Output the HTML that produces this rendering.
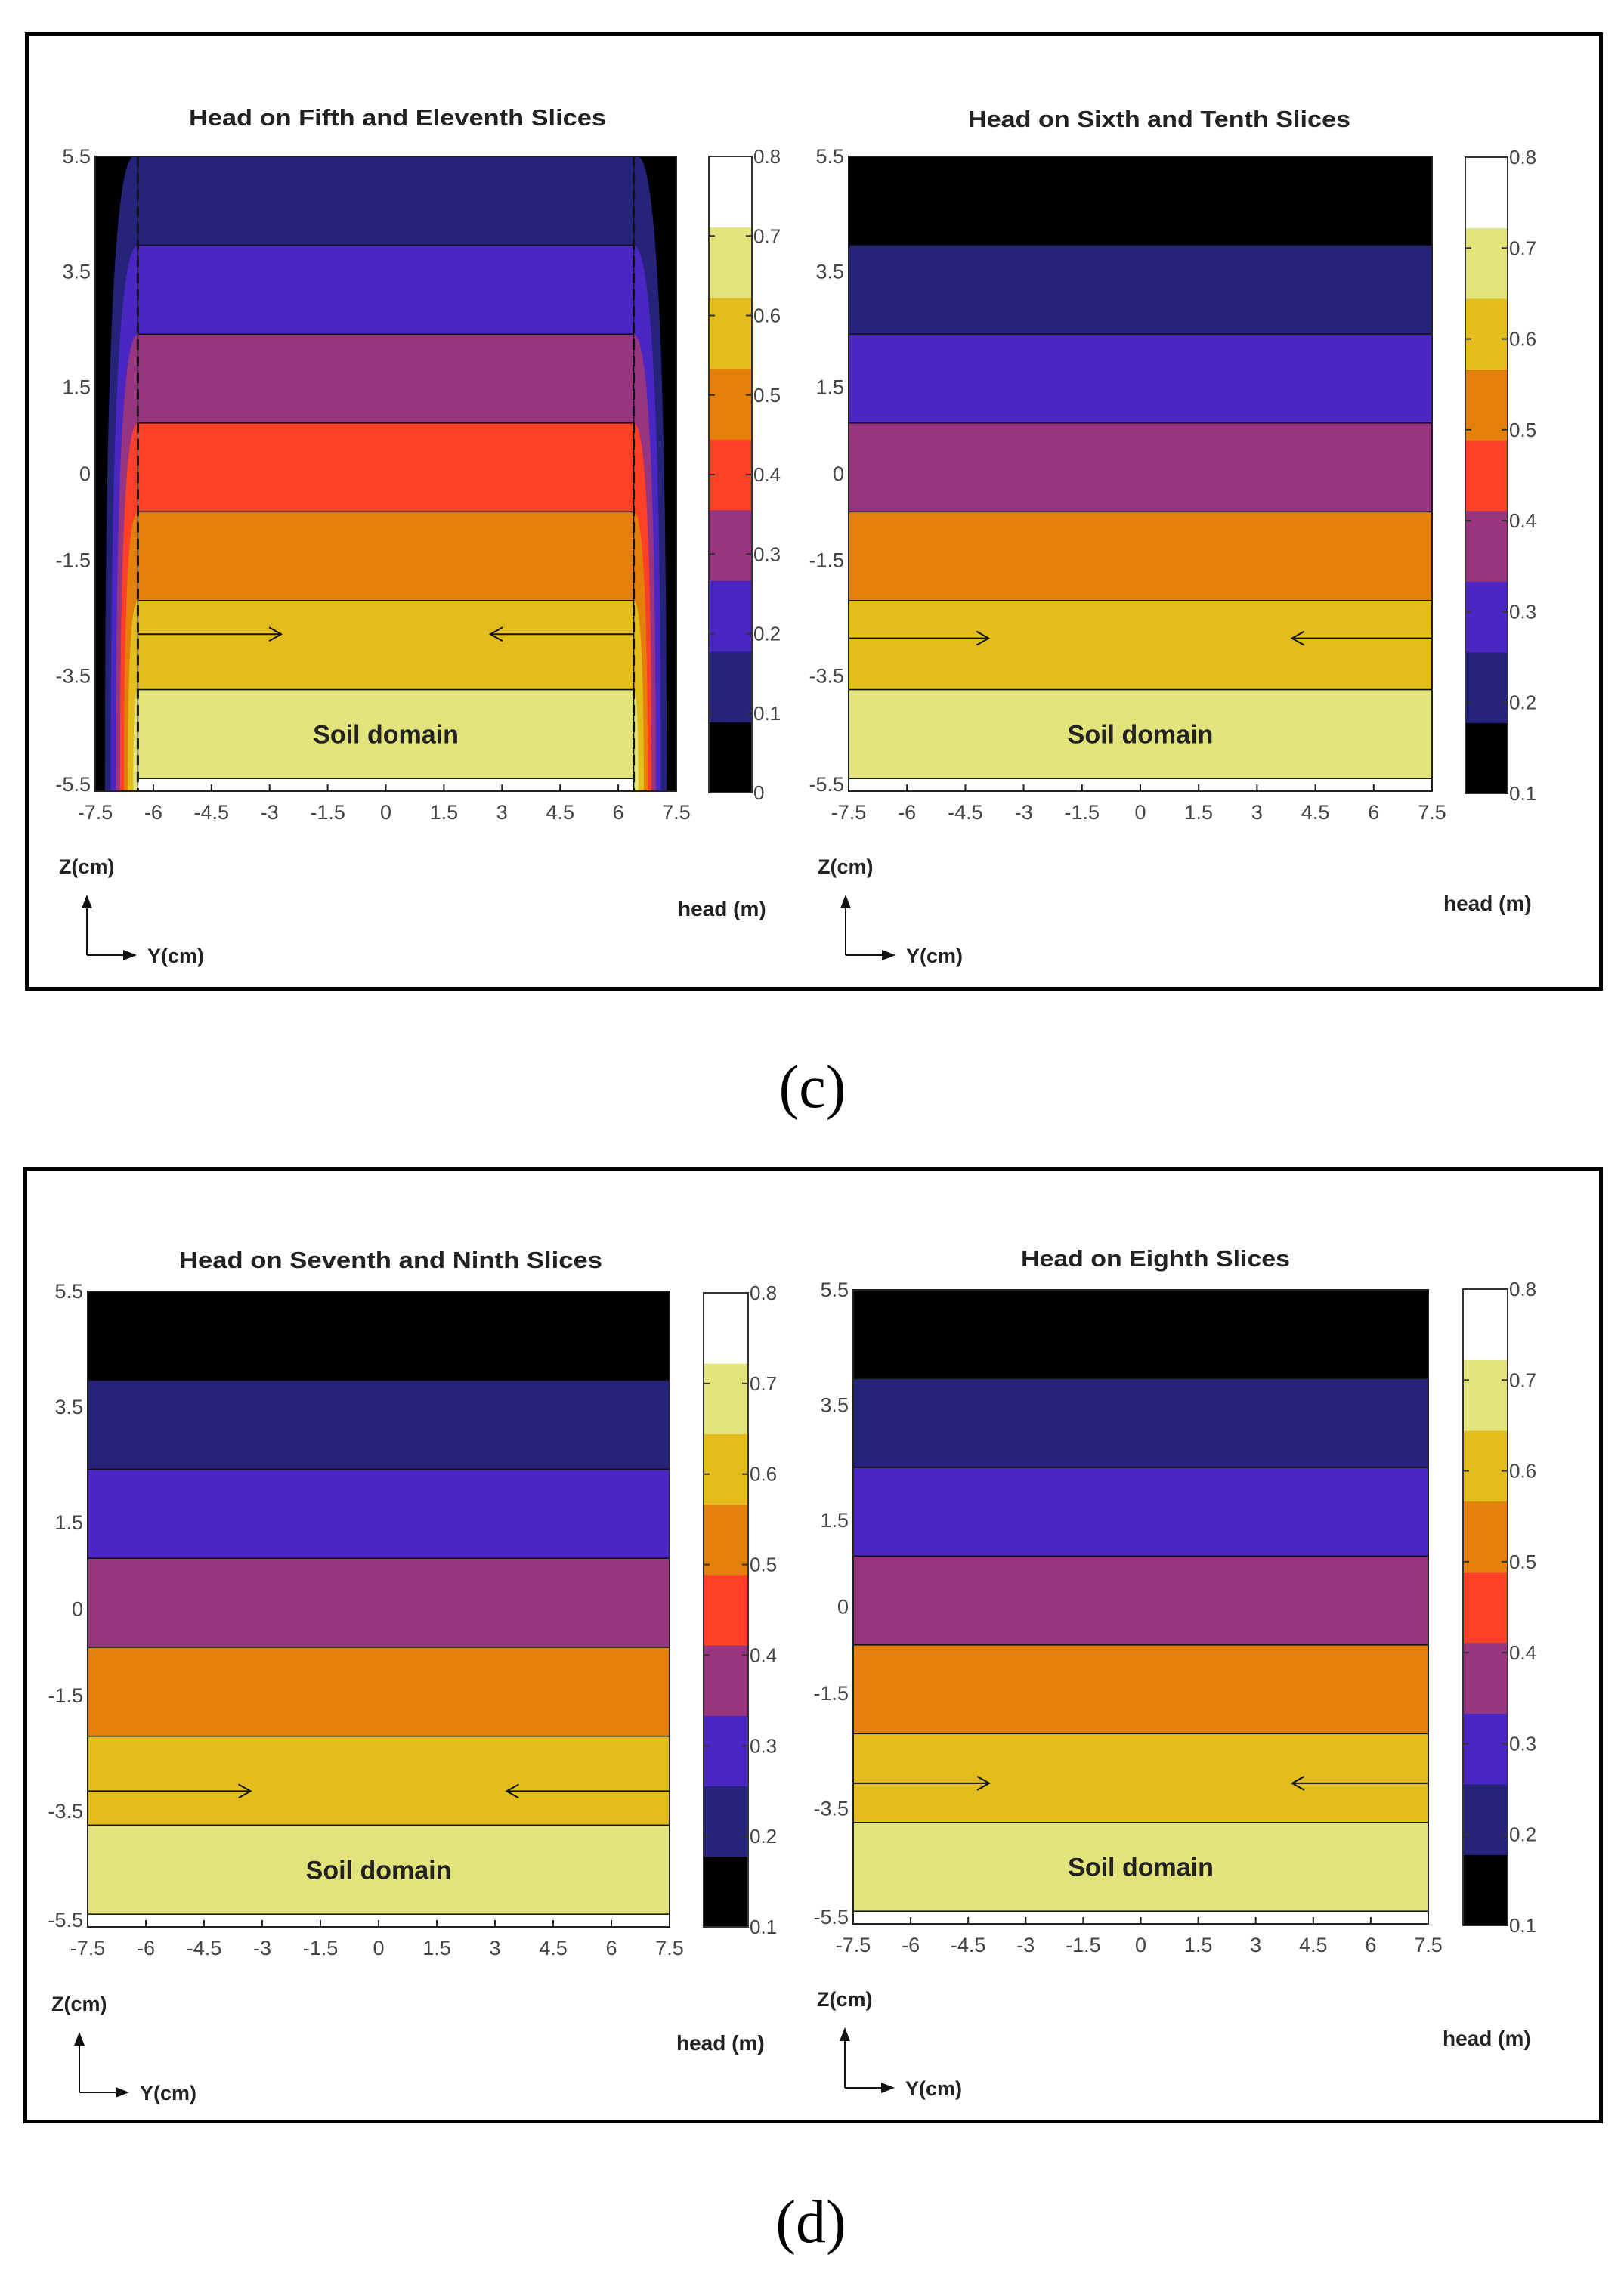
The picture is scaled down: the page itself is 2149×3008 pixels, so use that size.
<!DOCTYPE html>
<html><head><meta charset="utf-8"><style>
html,body{margin:0;padding:0;background:#fff;}
svg{display:block;}
</style></head><body>
<svg id="fig" width="2149" height="3008" viewBox="0 0 2149 3008" xmlns="http://www.w3.org/2000/svg">
<rect x="35.5" y="45.5" width="2083" height="1263" fill="#fff" stroke="#000" stroke-width="5"/>
<rect x="33.5" y="1546.5" width="2085" height="1261" fill="#fff" stroke="#000" stroke-width="5"/>
<text x="1075" y="1465" font-family="Liberation Serif, serif" font-size="80" text-anchor="middle">(c)</text>
<text x="1073" y="2967" font-family="Liberation Serif, serif" font-size="80" text-anchor="middle">(d)</text>
<g id="layer"></g>
</svg>
<script>
// ---- data ----
const xTicks = [-7.5,-6,-4.5,-3,-1.5,0,1.5,3,4.5,6,7.5];
const xTickLabels = ["-7.5","-6","-4.5","-3","-1.5","0","1.5","3","4.5","6","7.5"];
const zTicks = [5.5,3.5,1.5,0,-1.5,-3.5,-5.5];
const zTickLabels = ["5.5","3.5","1.5","0","-1.5","-3.5","-5.5"];
const bandEdges = [5.5,3.96,2.42,0.88,-0.66,-2.2,-3.74,-5.28];
const bandsFifth = ["n","b","p","r","o","g","y"];
const bandsOther = ["k","n","b","p","o","g","y"];
const cbSegments = ["k","n","b","p","r","o","g","y","w"];
const cbTicksA = ["0","0.1","0.2","0.3","0.4","0.5","0.6","0.7","0.8"];
const cbTicksB = ["0.1","0.2","0.3","0.4","0.5","0.6","0.7","0.8"];
const sideBottomX = [-7.25,-7.1,-6.97,-6.86,-6.76,-6.66,-6.52];
const arrowZ = [-2.78,-2.85,-3.15,-3.06];
const arrowTipX = [2.7,3.9,3.3,3.95];
const COL = {k:'#000000',n:'#25237a',b:'#4a27c2',p:'#973580',r:'#fe4126',o:'#e2800a',g:'#e3bd1c',y:'#e3e37b',w:'#ffffff'};

const panels = [
 {name:'fifth-eleventh', title:'Head on Fifth and Eleventh Slices', tw:552, tx:526, ty:166, x0:126,x1:895,y0:207,y1:1047, cb:[938,995,207,1049], cbt:cbTicksA, bands:bandsFifth, side:true, ai:0, zx:78, zy:1156, hx:897, hy:1212},
 {name:'sixth-tenth', title:'Head on Sixth and Tenth Slices', tw:506, tx:1534, ty:168, x0:1123,x1:1895,y0:207,y1:1047, cb:[1939,1995,208,1050], cbt:cbTicksB, bands:bandsOther, side:false, ai:1, zx:1082, zy:1156, hx:1910, hy:1205},
 {name:'seventh-ninth', title:'Head on Seventh and Ninth Slices', tw:560, tx:517, ty:1678, x0:116,x1:886,y0:1709,y1:2550, cb:[931,990,1711,2550], cbt:cbTicksB, bands:bandsOther, side:false, ai:2, zx:68, zy:2661, hx:895, hy:2713},
 {name:'eighth', title:'Head on Eighth Slices', tw:356, tx:1529, ty:1676, x0:1129,x1:1890,y0:1707,y1:2546, cb:[1936,1995,1706,2548], cbt:cbTicksB, bands:bandsOther, side:false, ai:3, zx:1081, zy:2655, hx:1909, hy:2707}
];
const NS='http://www.w3.org/2000/svg';
const layer=document.getElementById('layer');
function mk(tag,attrs,parent){const e=document.createElementNS(NS,tag);for(const k in attrs)e.setAttribute(k,attrs[k]);(parent||layer).appendChild(e);return e;}

panels.forEach(P=>{
 const g=mk('g',{});
 
 
 const sx=v=>P.x0+(v+7.5)/15*(P.x1-P.x0);
 const sz=z=>P.y0+(5.5-z)/11*(P.y1-P.y0);
 const t=mk('text',{x:P.tx,y:P.ty,'font-family':'Liberation Sans, sans-serif','font-weight':'bold','font-size':31,'text-anchor':'middle',textLength:P.tw,lengthAdjust:'spacingAndGlyphs',fill:'#222'},g);
 t.textContent=P.title;
 
 
 // plot background
 const bg=mk('rect',{x:P.x0,y:P.y0,width:P.x1-P.x0,height:P.y1-P.y0,fill:P.side?'#000':'#fff'},g);
 
 
 let ix0=-7.5, ix1=7.5;
 if(P.side){
  ix0=-6.4; ix1=6.4;
  P.bands.forEach((c,i)=>{
   const xb=sideBottomX[i]; const zt=bandEdges[i]; const xt=i===0?-6.5:-6.4;
   const d=`M${sx(xb)},${sz(-5.5)} Q${sx(xb)},${sz(zt)} ${sx(xt)},${sz(zt)} L${sx(-xt)},${sz(zt)} Q${sx(-xb)},${sz(zt)} ${sx(-xb)},${sz(-5.5)} Z`;
   const pth=mk('path',{d:d,fill:COL[c]},g);
   
   
  });
 }
 P.bands.forEach((c,i)=>{
  const r=mk('rect',{x:sx(ix0),y:sz(bandEdges[i]),width:sx(ix1)-sx(ix0),height:sz(bandEdges[i+1])-sz(bandEdges[i]),fill:COL[c],stroke:'#111','stroke-width':1.5},g);
  
  
 });
 const strip=mk('rect',{x:sx(ix0),y:sz(bandEdges[7]),width:sx(ix1)-sx(ix0),height:sz(-5.5)-sz(bandEdges[7]),fill:'#fff',stroke:'#111','stroke-width':1.5},g);
 
 
 if(P.side){
  [-6.4,6.4].forEach(v=>{
   const l=mk('line',{x1:sx(v),y1:sz(5.5),x2:sx(v),y2:sz(-5.5),stroke:'#111','stroke-width':3,'stroke-dasharray':'14 8'},g);
   
   
  });
 }
 // arrows
 const az=sz(arrowZ[P.ai]); const tip=arrowTipX[P.ai];
 [[ix0,-tip],[ix1,tip]].forEach(([a,b])=>{
  const l=mk('line',{x1:sx(a),y1:az,x2:sx(b),y2:az,stroke:'#111','stroke-width':2},g);
  
  
  const dir=b>a?-1:1;
  mk('polyline',{points:`${sx(b)+dir*16},${az-9} ${sx(b)},${az} ${sx(b)+dir*16},${az+9}`,fill:'none',stroke:'#111','stroke-width':2},g);
 });
 const sd=mk('text',{x:(P.x0+P.x1)/2,y:sz((bandEdges[6]+bandEdges[7])/2)+12,'font-family':'Liberation Sans, sans-serif','font-weight':'bold','font-size':34,'text-anchor':'middle',fill:'#222'},g);
 sd.textContent='Soil domain';
 
 
 // axes box
 const box=mk('rect',{x:P.x0,y:P.y0,width:P.x1-P.x0,height:P.y1-P.y0,fill:'none',stroke:'#222','stroke-width':2},g);
 
 
 xTicks.forEach((v,i)=>{
  mk('line',{x1:sx(v),y1:P.y1,x2:sx(v),y2:P.y1-9,stroke:'#222','stroke-width':2},g);
  const tx=mk('text',{x:sx(v),y:P.y1+37,'font-family':'Liberation Sans, sans-serif','font-size':27,'text-anchor':'middle',fill:'#444'},g);
  tx.textContent=xTickLabels[i];
  
  
 });
 zTicks.forEach((v,i)=>{
  const ty=mk('text',{x:P.x0-6,y:sz(v)+(i===6?0:9),'font-family':'Liberation Sans, sans-serif','font-size':27,'text-anchor':'end',fill:'#444'},g);
  ty.textContent=zTickLabels[i];
  
  
 });
 // colorbar
 const [c0,c1,cy0,cy1]=P.cb; const segH=(cy1-cy0)/cbSegments.length;
 cbSegments.forEach((c,i)=>{
  const r=mk('rect',{x:c0,y:cy1-(i+1)*segH,width:c1-c0,height:segH+0.5,fill:COL[c]},g);
  
  
 });
 const cbb=mk('rect',{x:c0,y:cy0,width:c1-c0,height:cy1-cy0,fill:'none',stroke:'#333','stroke-width':2},g);
 
 
 const n=P.cbt.length-1;
 P.cbt.forEach((lab,i)=>{
  const y=cy1-i*(cy1-cy0)/n;
  mk('line',{x1:c1,y1:y,x2:c1-8,y2:y,stroke:'#333','stroke-width':2},g);
  mk('line',{x1:c0,y1:y,x2:c0+8,y2:y,stroke:'#333','stroke-width':2},g);
  const tl=mk('text',{x:c1+2,y:y+9,'font-family':'Liberation Sans, sans-serif','font-size':26,fill:'#444'},g);
  tl.textContent=lab;
  
  
 });
 const hm=mk('text',{x:P.hx,y:P.hy,'font-family':'Liberation Sans, sans-serif','font-weight':'bold','font-size':28,fill:'#222'},g);
 hm.textContent='head (m)';
 
 
 const zl=mk('text',{x:P.zx,y:P.zy,'font-family':'Liberation Sans, sans-serif','font-weight':'bold','font-size':27,fill:'#222'},g);
 zl.textContent='Z(cm)';
 
 
 const ax=P.zx+37, ay=P.zy+108;
 mk('line',{x1:ax,y1:ay,x2:ax,y2:ay-70,stroke:'#111','stroke-width':2},g);
 mk('polygon',{points:`${ax-7},${ay-62} ${ax},${ay-80} ${ax+7},${ay-62}`,fill:'#111'},g);
 mk('line',{x1:ax,y1:ay,x2:ax+55,y2:ay,stroke:'#111','stroke-width':2},g);
 mk('polygon',{points:`${ax+48},${ay-7} ${ax+66},${ay} ${ax+48},${ay+7}`,fill:'#111'},g);
 const yl=mk('text',{x:ax+80,y:ay+10,'font-family':'Liberation Sans, sans-serif','font-weight':'bold','font-size':27,fill:'#222'},g);
 yl.textContent='Y(cm)';
 
 
});
</script>
</body></html>
